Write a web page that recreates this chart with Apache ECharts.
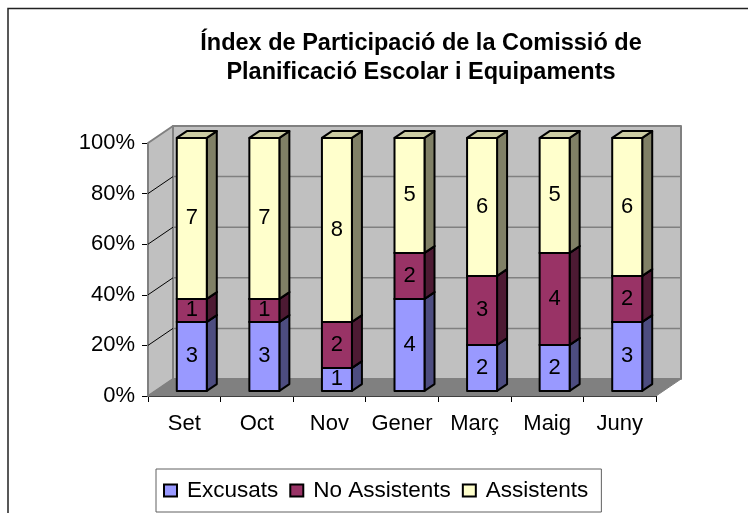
<!DOCTYPE html>
<html>
<head>
<meta charset="utf-8">
<style>
html,body{margin:0;padding:0;background:#fff;}
#main{width:748px;height:513px;}
</style>
<script src="https://cdn.jsdelivr.net/npm/echarts@6/dist/echarts.min.js"></script>
</head>
<body>
<div id="main"></div>
<script>
var months = ['Set', 'Oct', 'Nov', 'Gener', 'Març', 'Maig', 'Juny'];
var excusats = [3, 3, 1, 4, 2, 2, 3];
var noAssistents = [1, 1, 2, 2, 3, 4, 2];
var assistents = [7, 7, 8, 5, 6, 5, 6];
var percentTicks = [0, 20, 40, 60, 80, 100];

var fontName = '"Liberation Sans", Arial, sans-serif';
// depth of the 3d box, in pixels
var depthX = 25, depthY = 17;
var barWidth = 30;
var barNear = 0.3, barFar = 0.7;

var totals = months.map(function (m, i) {
    return excusats[i] + noAssistents[i] + assistents[i];
});

function stackData(values, below) {
    return values.map(function (v, i) {
        var start = 0;
        below.forEach(function (b) { start += b[i]; });
        return [i, start / totals[i] * 100, (start + v) / totals[i] * 100, v];
    });
}

function poly(points, fill, stroke, width) {
    return {
        type: 'polygon',
        shape: { points: points },
        style: { fill: fill, stroke: stroke, lineWidth: width, lineJoin: 'round' }
    };
}

function line(x1, y1, x2, y2, color, width) {
    return {
        type: 'line',
        shape: { x1: x1, y1: y1, x2: x2, y2: y2 },
        style: { stroke: color, lineWidth: width }
    };
}

// back wall, left wall, floor and the gridlines
function renderWalls(params, api) {
    var x0 = api.coord([0, 0])[0] - params.coordSys.width / months.length / 2;
    var x1 = x0 + params.coordSys.width;
    var y0 = api.coord([0, 0])[1];
    var y100 = api.coord([0, 100])[1];
    var kids = [
        poly([[x0 + depthX, y100 - depthY], [x1 + depthX, y100 - depthY], [x1 + depthX, y0 - depthY], [x0 + depthX, y0 - depthY]], '#c0c0c0', '#808080', 2),
        poly([[x0, y100], [x0 + depthX, y100 - depthY], [x0 + depthX, y0 - depthY], [x0, y0]], '#c0c0c0', '#808080', 2),
        poly([[x0, y0], [x0 + depthX, y0 - depthY], [x1 + depthX, y0 - depthY], [x1, y0]], '#808080', '#808080', 1)
    ];
    percentTicks.forEach(function (t) {
        if (t === 0 || t === 100) return;
        var y = api.coord([0, t])[1];
        kids.push(line(x0, y, x0 + depthX, y - depthY, '#000', 1));
        kids.push(line(x0 + depthX, y - depthY, x1 + depthX, y - depthY, '#808080', 1.5));
    });
    return { type: 'group', children: kids };
}

function barRenderer(front, side, top) {
    return function (params, api) {
        var low = api.coord([api.value(0), api.value(1)]);
        var high = api.coord([api.value(0), api.value(2)]);
        var nx = low[0] + depthX * barNear - barWidth / 2;
        var ny = -depthY * barNear;
        var dx = depthX * (barFar - barNear), dy = depthY * (barFar - barNear);
        var xl = nx, xr = nx + barWidth;
        var yb = low[1] + ny, yt = high[1] + ny;
        var kids = [
            poly([[xr, yb], [xr + dx, yb - dy], [xr + dx, yt - dy], [xr, yt]], side, '#000', 2),
            poly([[xl, yt], [xr, yt], [xr + dx, yt - dy], [xl + dx, yt - dy]], top, '#000', 2),
            poly([[xl, yb], [xr, yb], [xr, yt], [xl, yt]], front, '#000', 2),
            {
                type: 'text',
                style: {
                    text: String(api.value(3)),
                    x: (xl + xr) / 2,
                    y: (yb + yt) / 2,
                    fill: '#000',
                    font: '22px ' + fontName,
                    align: 'center',
                    verticalAlign: 'middle'
                }
            }
        ];
        return { type: 'group', children: kids };
    };
}

function barSeries(name, values, below, front, side, top) {
    return {
        name: name,
        type: 'custom',
        renderItem: barRenderer(front, side, top),
        data: stackData(values, below),
        encode: { x: 0, y: [1, 2] },
        itemStyle: { color: front, borderColor: '#000', borderWidth: 2 },
        z: 5
    };
}

var chart = echarts.init(document.getElementById('main'));
chart.setOption({
    backgroundColor: '#fff',
    animation: false,
    title: {
        text: 'Índex de Participació de la Comissió de\nPlanificació Escolar i Equipaments',
        left: 416,
        top: 24,
        textAlign: 'center',
        textStyle: { fontFamily: fontName, fontSize: 23.5, fontWeight: 'bold', color: '#000', lineHeight: 29 }
    },
    legend: {
        left: 156,
        top: 469,
        itemWidth: 13,
        itemHeight: 12,
        itemGap: 11,
        padding: [10, 13, 10, 7],
        borderColor: '#606060',
        borderWidth: 1,
        textStyle: { fontFamily: fontName, fontSize: 22.5, color: '#000', padding: [0, 0, 0, 5] },
        data: [
            { name: 'Excusats', icon: 'rect' },
            { name: 'No Assistents', icon: 'rect' },
            { name: 'Assistents', icon: 'rect' }
        ]
    },
    grid: { left: 148, top: 143, width: 508, height: 253 },
    xAxis: {
        type: 'category',
        data: months,
        axisLine: { lineStyle: { color: '#000', width: 1 } },
        axisTick: { show: true, alignWithLabel: false, interval: 0, length: 6, lineStyle: { color: '#000' } },
        axisLabel: { fontFamily: fontName, fontSize: 22, color: '#000', margin: 17, interval: 0 }
    },
    yAxis: {
        type: 'value',
        min: 0,
        max: 100,
        interval: 20,
        axisLine: { show: true, lineStyle: { color: '#000', width: 1 } },
        axisTick: { show: true, length: 6, lineStyle: { color: '#000' } },
        axisLabel: { fontFamily: fontName, fontSize: 22, color: '#000', margin: 13, formatter: '{value}%' },
        splitLine: { show: false }
    },
    graphic: [{
        type: 'polyline',
        silent: true,
        shape: { points: [[8, 513], [8, 8.5], [748, 8.5]] },
        style: { fill: null, stroke: '#222', lineWidth: 1.5 }
    }],
    series: [
        {
            name: 'walls',
            type: 'custom',
            renderItem: renderWalls,
            data: [[0, 0]],
            encode: { x: 0, y: 1 },
            silent: true,
            z: 1
        },
        barSeries('Excusats', excusats, [], '#9999ff', '#4d4d80', '#4d4d80'),
        barSeries('No Assistents', noAssistents, [excusats], '#993366', '#4d1a33', '#4d1a33'),
        barSeries('Assistents', assistents, [excusats, noAssistents], '#ffffcc', '#808066', '#cccca3')
    ]
});
</script>
</body>
</html>
